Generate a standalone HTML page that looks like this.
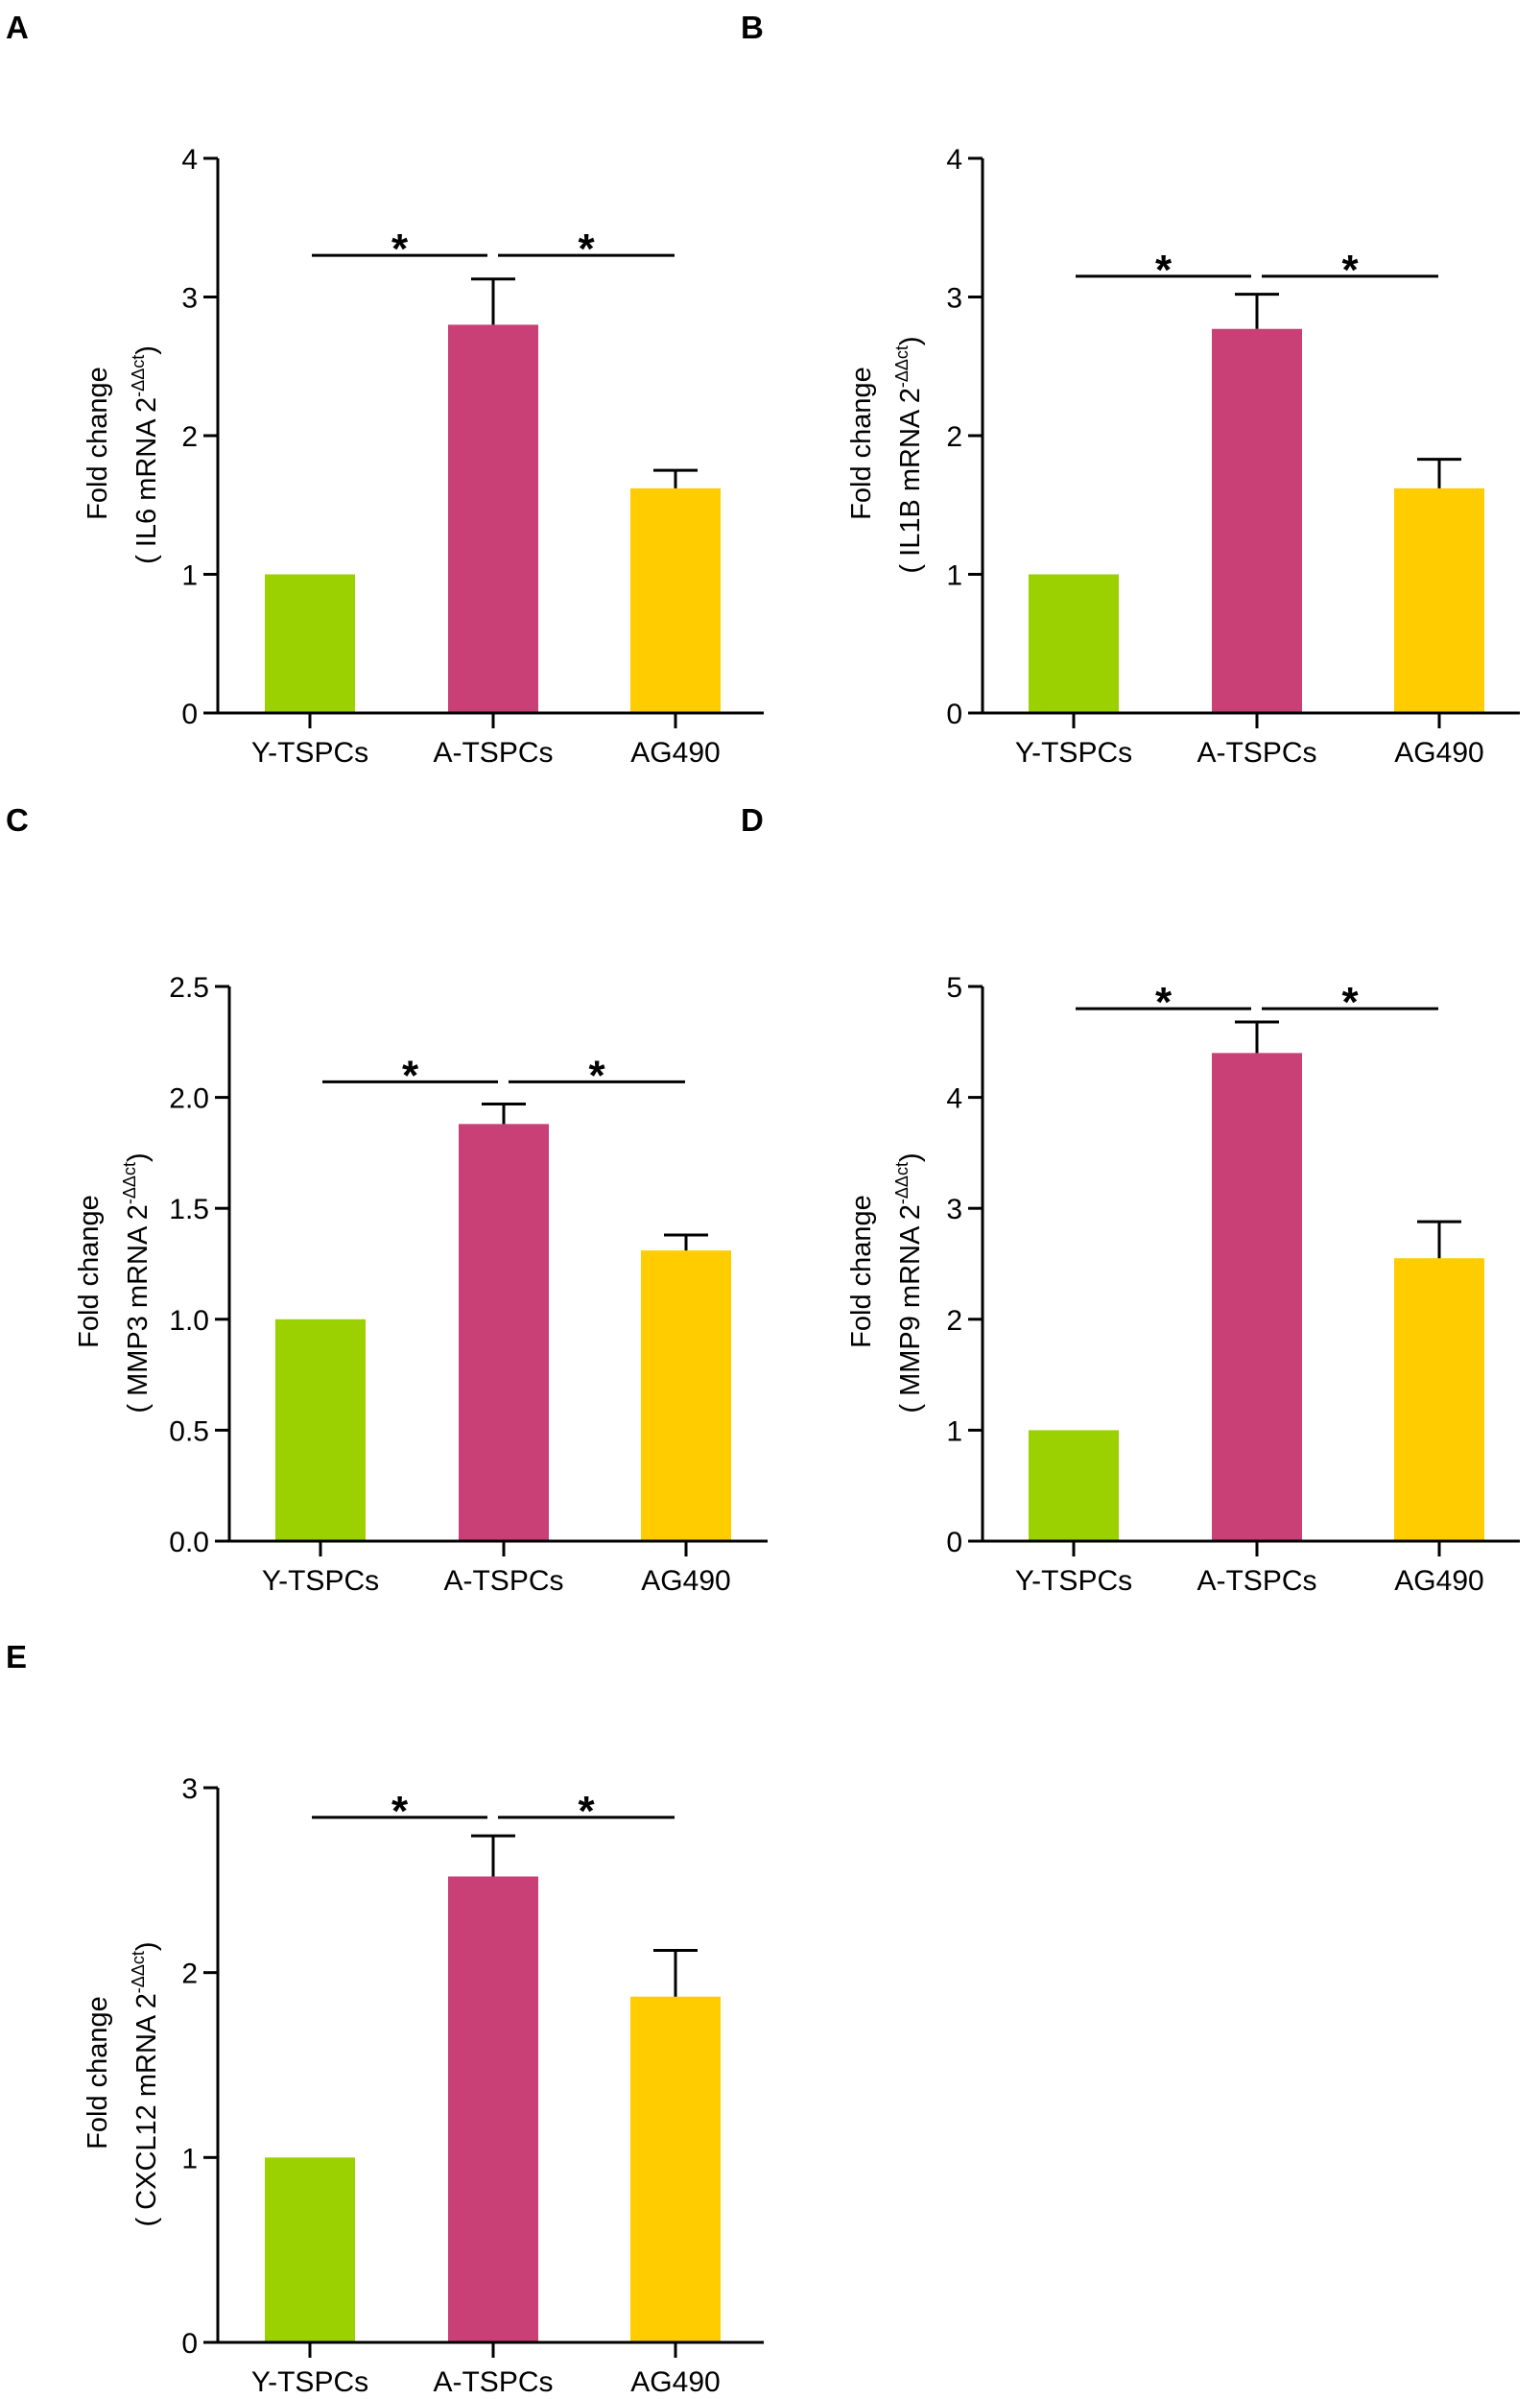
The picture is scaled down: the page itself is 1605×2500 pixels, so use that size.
<!DOCTYPE html>
<html><head><meta charset="utf-8"><style>
html,body{margin:0;padding:0;background:#fff;}
svg{display:block;font-family:"Liberation Sans",Arial,sans-serif;}
</style></head><body>
<svg id="fig" width="1605" height="2500" viewBox="0 0 1605 2500" xmlns="http://www.w3.org/2000/svg"></svg>
<script>
const categories = ["Y-TSPCs", "A-TSPCs", "AG490"];
const colors = ["#9bd100", "#c84075", "#ffcc00"];
const panelLetters = ["A", "B", "C", "D", "E"];
const genes = ["IL6", "IL1B", "MMP3", "MMP9", "CXCL12"];
const meansA = [1, 2.80, 1.62];
const errsA = [0, 3.13, 1.75];
const meansB = [1, 2.77, 1.62];
const errsB = [0, 3.02, 1.83];
const meansC = [1, 1.88, 1.31];
const errsC = [0, 1.97, 1.38];
const meansD = [1, 4.40, 2.55];
const errsD = [0, 4.68, 2.88];
const meansE = [1, 2.52, 1.87];
const errsE = [0, 2.74, 2.12];
const yMaxes = [4, 4, 2.5, 5, 3];
const tickLabelsA = ["0", "1", "2", "3", "4"];
const tickLabelsB = ["0", "1", "2", "3", "4"];
const tickLabelsC = ["0.0", "0.5", "1.0", "1.5", "2.0", "2.5"];
const tickLabelsD = ["0", "1", "2", "3", "4", "5"];
const tickLabelsE = ["0", "1", "2", "3"];
const sigLevels = [3.3, 3.15, 2.07, 4.8, 2.84];

const layout = [
  {ax:227, top:165, zero:743, lx:6, ly:40, bx:[323,514,704], xEnd:796, t1:-116, t2:-65},
  {ax:1024, top:165, zero:743, lx:772, ly:40, bx:[1119,1310,1500], xEnd:1584, t1:-117, t2:-66},
  {ax:239, top:1028, zero:1606, lx:6, ly:866, bx:[334,525,715], xEnd:800, t1:-137, t2:-86},
  {ax:1024, top:1028, zero:1606, lx:772, ly:866, bx:[1119,1310,1500], xEnd:1584, t1:-117, t2:-66},
  {ax:227, top:1863, zero:2441, lx:6, ly:1738, bx:[323,514,704], xEnd:796, t1:-116, t2:-65}
];
const allMeans = [meansA, meansB, meansC, meansD, meansE];
const allErrs = [errsA, errsB, errsC, errsD, errsE];
const allTicks = [tickLabelsA, tickLabelsB, tickLabelsC, tickLabelsD, tickLabelsE];

const NS = "http://www.w3.org/2000/svg";
const svg = document.getElementById("fig");
function mk(tag, attrs, parent, text) {
  const e = document.createElementNS(NS, tag);
  for (const k in attrs) e.setAttribute(k, attrs[k]);
  if (text !== undefined) e.textContent = text;
  parent.appendChild(e);
  return e;
}

for (let p = 0; p < 5; p++) {
  const L = layout[p], means = allMeans[p], errs = allErrs[p], ticks = allTicks[p], ymax = yMaxes[p];
  const y = v => L.zero - (v / ymax) * (L.zero - L.top);
  const g = mk("g", {}, svg);
  
  
  const lt = mk("text", {x: L.lx, y: L.ly, "font-size": 33, "font-weight": "bold", fill: "#000"}, g, panelLetters[p]);
  
  
  for (let i = 0; i < 3; i++) {
    const cx = L.bx[i];
    const r = mk("rect", {x: cx - 47, y: y(means[i]), width: 94, height: L.zero - y(means[i]), fill: colors[i]}, g);
    
    
    if (errs[i] > means[i]) {
      const eb = mk("path", {d: `M${cx},${y(means[i])} V${y(errs[i])} M${cx-23},${y(errs[i])} H${cx+23}`, stroke: "#000", "stroke-width": 3, fill: "none"}, g);
      
      
    }
  }
  const ya = mk("path", {d: `M${L.ax},${L.top} V${L.zero}`, stroke: "#000", "stroke-width": 3}, g);
  
  
  const xa = mk("path", {d: `M${L.ax-15},${L.zero} H${L.xEnd}`, stroke: "#000", "stroke-width": 3}, g);
  
  
  for (let t = 0; t < ticks.length; t++) {
    const v = parseFloat(ticks[t]);
    const ty = y(v);
    mk("path", {d: `M${L.ax-15},${ty} H${L.ax}`, stroke: "#000", "stroke-width": 3}, g);
    const tl = mk("text", {x: L.ax - 21, y: ty + 11, "font-size": 30, "text-anchor": "end", fill: "#000"}, g, ticks[t]);
    
    
  }
  for (let i = 0; i < 3; i++) {
    mk("path", {d: `M${L.bx[i]},${L.zero} V${L.zero+16}`, stroke: "#000", "stroke-width": 3}, g);
    const xl = mk("text", {x: L.bx[i], y: L.zero + 51, "font-size": 30, "text-anchor": "middle", fill: "#000"}, g, categories[i]);
    
    
  }
  const sy = y(sigLevels[p]);
  const pairs = [[L.bx[0]+2, L.bx[1]-6], [L.bx[1]+5, L.bx[2]-1]];
  pairs.forEach((pr, k) => {
    const sl = mk("path", {d: `M${pr[0]},${sy} H${pr[1]}`, stroke: "#000", "stroke-width": 3}, g);
    
    
    const st = mk("text", {x: (pr[0]+pr[1])/2, y: sy + 8, "font-size": 44, "font-weight": "bold", "text-anchor": "middle", fill: "#000"}, g, "*");
    
    
  });
  const mid = (L.top + L.zero) / 2;
  const t1 = mk("text", {transform: `translate(${L.ax+L.t1},${mid+8}) rotate(-90)`, "font-size": 29, "text-anchor": "middle", fill: "#000"}, g, "Fold change");
  
  
  const t2 = mk("text", {transform: `translate(${L.ax+L.t2},${mid+20}) rotate(-90)`, "font-size": 29, "text-anchor": "middle", fill: "#000"}, g);
  
  
  mk("tspan", {}, t2, "( " + genes[p] + " mRNA 2");
  mk("tspan", {"font-size": 18, dy: -12}, t2, "-ΔΔct");
  mk("tspan", {dy: 12}, t2, ")");
}
</script>
</body></html>
